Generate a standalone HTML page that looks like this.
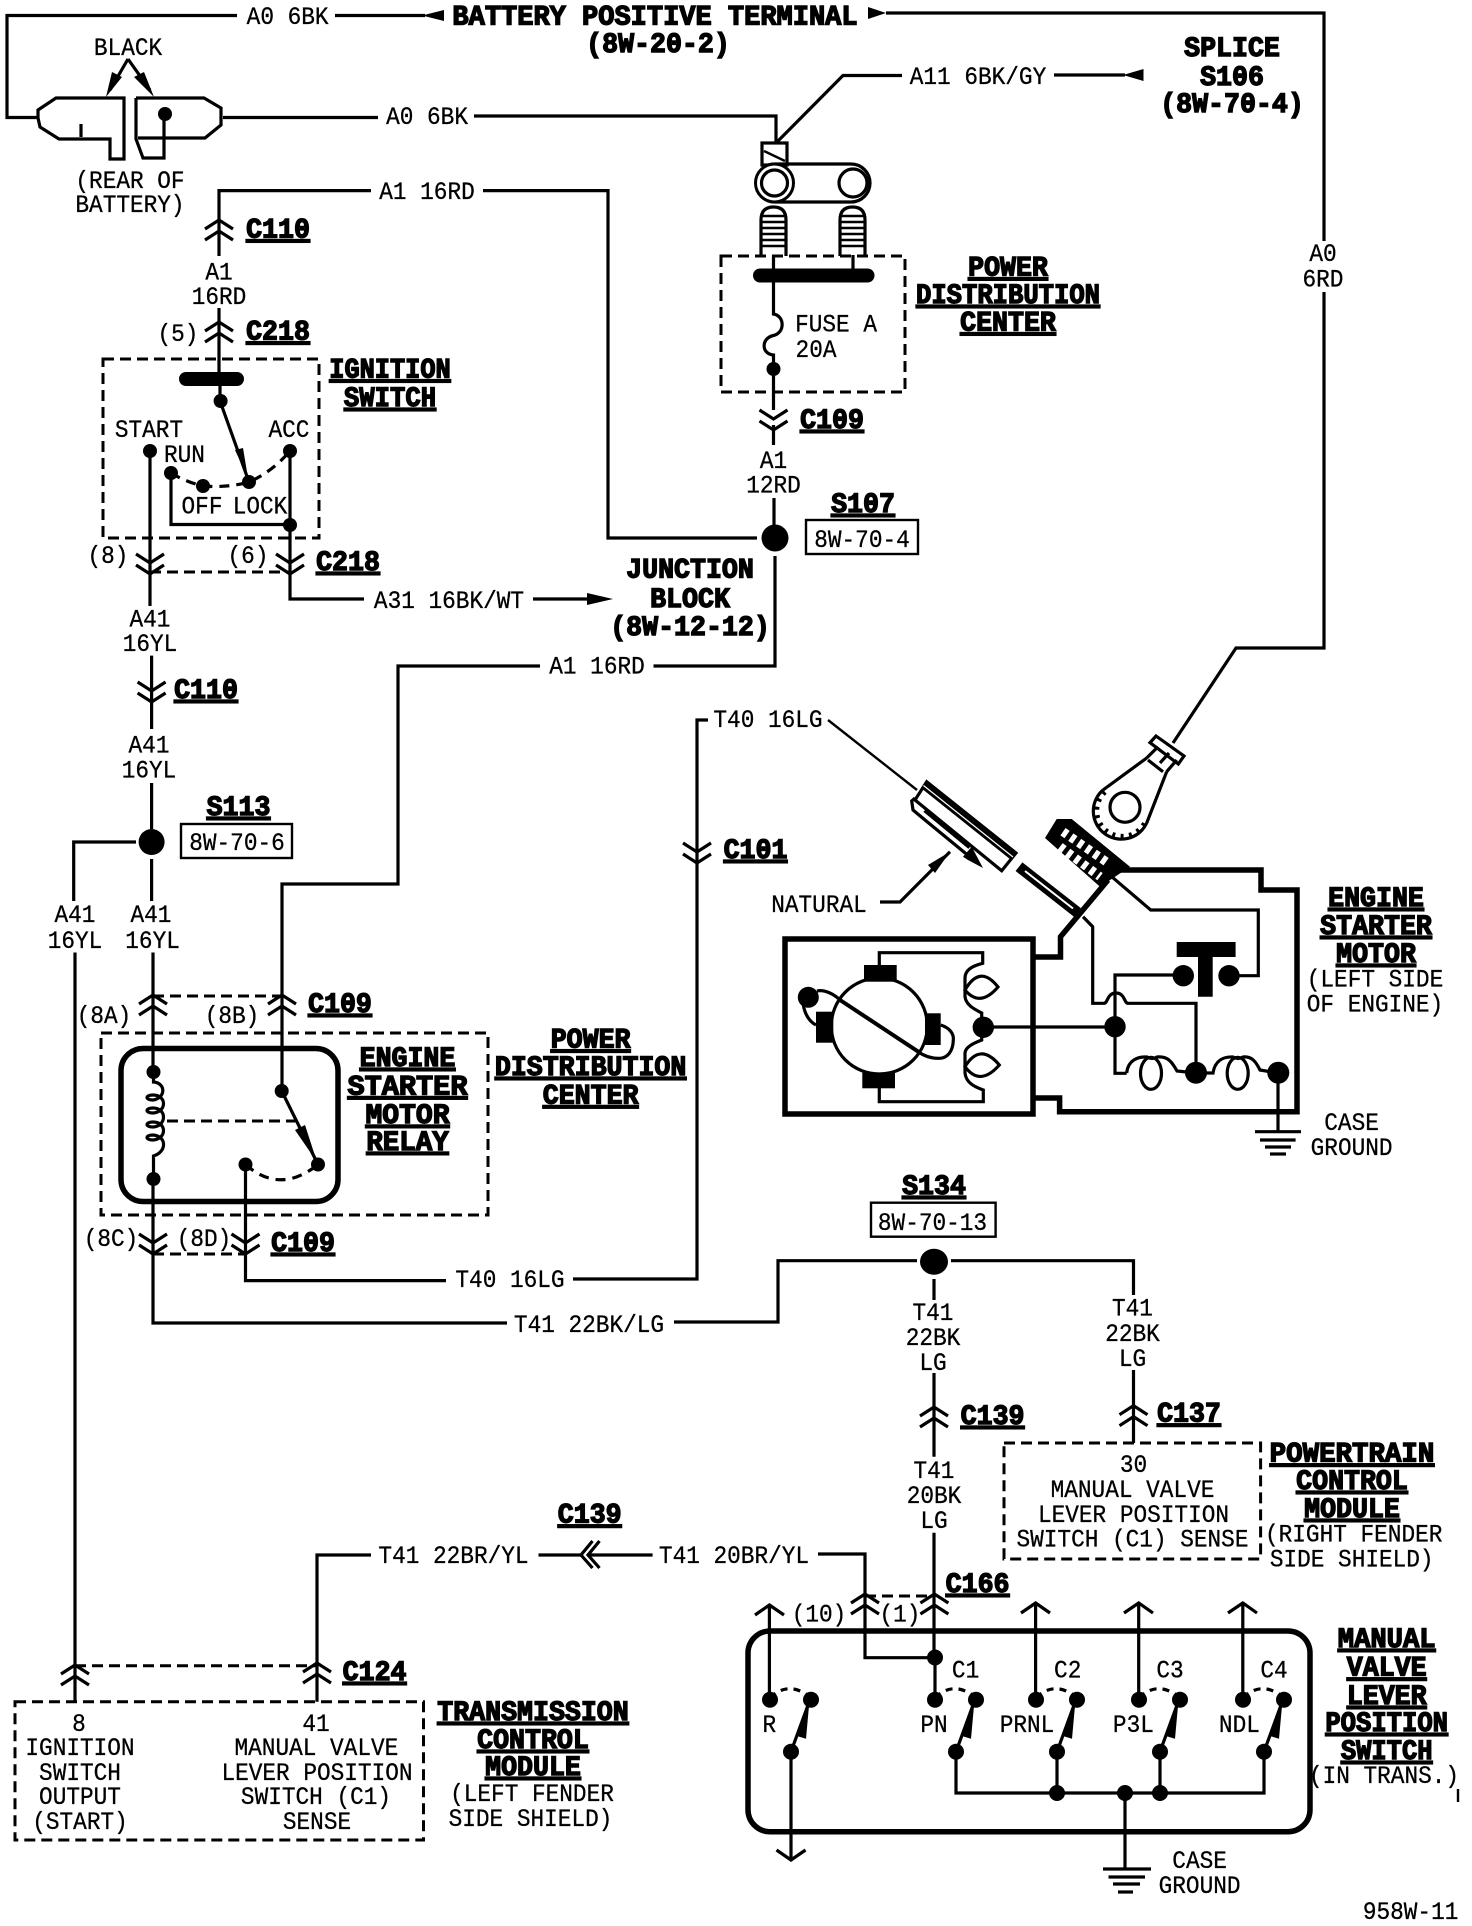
<!DOCTYPE html>
<html lang="en">
<head>
<meta charset="utf-8">
<title>Starting system wiring diagram</title>
<style>
html,body{margin:0;padding:0;background:#fff}
svg{display:block}
text{font-family:"Liberation Mono",monospace;font-size:25px;text-anchor:middle;fill:#000;stroke:#000;stroke-width:.3px;transform-box:fill-box;transform-origin:center;transform:scaleX(.91)}
text.b{font-weight:bold;font-size:28px;stroke:#000;stroke-width:1.4px;transform:scaleX(.95)}
text.u{text-decoration:underline}
.w{fill:none;stroke:#000;stroke-width:3.2}
.t{fill:none;stroke:#000;stroke-width:2.4}
.h{fill:none;stroke:#000;stroke-width:5.5}
.d{fill:none;stroke:#000;stroke-width:3;stroke-dasharray:11 6}
.k{fill:#000;stroke:none}
</style>
</head>
<body>
<svg xmlns="http://www.w3.org/2000/svg" width="1472" height="1926" viewBox="0 0 1472 1926">
<defs>
<path id="cu" class="w" d="M-14,9 L0,0 L14,9 M-14,20 L0,11 L14,20"/>
<path id="cd" class="w" d="M-14,0 L0,9 L14,0 M-14,11 L0,20 L14,11"/>
<g id="sw">
<path class="w" d="M0,0 L19,-52"/>
<polygon class="k" points="18,-46 5,-16 15,-13"/>
<circle class="k" cx="0" cy="0" r="8"/>
<circle class="k" cx="20" cy="-52" r="8"/>
<circle class="k" cx="-21" cy="-52" r="8"/>
<path class="w" d="M-21,-54 Q-2,-72 20,-54" stroke-dasharray="7 6"/>
</g>
</defs>

<!-- battery -->
<path class="w" d="M237,15.5 H7 V117.5 H38"/>
<path class="w" d="M335,15.5 H425"/>
<polygon class="k" points="422,15.5 444,10 444,21"/>
<path class="w" d="M886,13 H1324 V241"/>
<polygon class="k" points="868,7 868,19 886,13"/>
<path class="w" d="M1324,292 V648 H1236 L1173,743"/>
<text x="287.6" y="24">A0 6BK</text>
<text class="b" style="transform:scaleX(.965)" x="655" y="24.5">BATTERY POSITIVE TERMINAL</text>
<text class="b" x="658" y="52">(8W-20-2)</text>
<text x="128" y="55">BLACK</text>
<path class="w" d="M128,59 L110,90 M128,59 L150,90"/>
<polygon class="k" points="106,97 112,72 122,77"/>
<polygon class="k" points="154,97 134,77 144,72"/>
<path class="w" d="M38,110 L56,98 H124 V159 H110 V139 H59 L40,127 L38,118 Z"/>
<path class="w" d="M81,124 V137"/>
<path class="w" d="M136,98 H204 L221,108 V125 L205,138 H138 M136,98 V139 L143,158 H164 V120"/>
<circle class="k" cx="165" cy="114" r="7"/>
<path class="w" d="M223,117.5 H378"/>
<text x="427" y="124">A0 6BK</text>
<path class="w" d="M474,116 H776 V143"/>
<text x="130" y="188">(REAR OF</text>
<text x="130" y="212">BATTERY)</text>

<!-- A11 + PDC top -->
<path class="w" d="M776,143 L843,75.5 H902"/>
<text x="978" y="84">A11 6BK/GY</text>
<path class="w" d="M1054,75 H1125"/>
<polygon class="k" points="1123,75 1143.5,69 1143.5,81"/>
<text class="b" x="1232" y="56">SPLICE</text>
<text class="b" x="1232" y="85">S106</text>
<text class="b" x="1232" y="112">(8W-70-4)</text>
<text x="1323" y="261">A0</text>
<text x="1323" y="286.5">6RD</text>
<rect class="w" x="762" y="143" width="25" height="22" fill="#fff"/>
<path class="t" d="M764,151 L785,161"/>
<rect class="w" x="756" y="164" width="114" height="38" rx="19"/>
<circle cx="774.5" cy="183" r="19" fill="#fff" stroke="#000" stroke-width="3"/>
<circle class="w" cx="774.5" cy="183" r="13"/>
<circle cx="853" cy="183" r="14" fill="#fff" stroke="#000" stroke-width="3.2"/>
<path class="w" d="M761,256 V220 Q761,207 773.5,207 Q786,207 786,220 V256"/>
<path class="t" d="M761,216 H786 M761,222 H786 M761,228 H786 M761,234 H786 M761,240 H786 M761,246 H786"/>
<path class="w" d="M840,256 V220 Q840,207 852.5,207 Q865,207 865,220 V256"/>
<path class="t" d="M840,216 H865 M840,222 H865 M840,228 H865 M840,234 H865 M840,240 H865 M840,246 H865"/>
<path class="w" d="M773.5,255 V269 M853,255 V269"/>
<rect class="k" x="753" y="268.5" width="121.5" height="14" rx="7"/>
<rect class="d" x="721" y="256" width="184" height="136"/>
<path class="w" d="M773.5,282 V314 C785,316 785,333 773.5,335.5 C761,338 761,354 773.5,355 V410"/>
<circle class="k" cx="773.5" cy="369" r="7"/>
<text x="836" y="331.5">FUSE A</text>
<text x="816" y="357">20A</text>
<use href="#cd" x="773.5" y="410"/>
<path class="w" d="M773.5,425 V445"/>
<text class="b u" x="832" y="428">C109</text>
<text class="b u" x="1008" y="275.5">POWER</text>
<text class="b u" style="transform:scaleX(.913)" x="1008" y="303">DISTRIBUTION</text>
<text class="b u" x="1008" y="330.5">CENTER</text>
<text x="773.5" y="468">A1</text>
<text x="773.5" y="492.6">12RD</text>
<path class="w" d="M774,498 V525"/>
<circle class="k" cx="775" cy="538" r="13.5"/>
<text class="b u" x="863" y="512">S107</text>
<rect class="t" x="806" y="520" width="112" height="34"/>
<text x="862" y="547">8W-70-4</text>
<path class="w" d="M775,556 V666 H653.5"/>

<!-- A1 left + ignition -->
<path class="w" d="M371,190.6 H219 V256"/>
<text x="427" y="199">A1 16RD</text>
<path class="w" d="M483,190.6 H608 V538 H757"/>
<use href="#cu" x="219" y="220"/>
<text class="b u" x="278" y="237.5">C110</text>
<text x="219" y="279.6">A1</text>
<text x="219" y="304">16RD</text>
<path class="w" d="M219,308 V378"/>
<use href="#cu" x="219" y="322"/>
<text x="178" y="341">(5)</text>
<text class="b u" x="278" y="339.6">C218</text>
<rect class="d" x="103" y="359" width="216" height="179"/>
<text class="b u" style="transform:scaleX(.904)" x="390" y="377.5">IGNITION</text>
<text class="b u" style="transform:scaleX(.914)" x="390" y="406">SWITCH</text>
<rect class="k" x="179" y="372" width="65" height="14" rx="7"/>
<path class="w" d="M220,386 V401 L249,482"/>
<circle class="k" cx="220.6" cy="401" r="7"/>
<polygon class="k" points="248,478 235,450 243,448"/>
<circle class="k" cx="249" cy="482" r="7"/>
<circle class="k" cx="150" cy="451" r="7"/>
<circle class="k" cx="290" cy="451" r="7"/>
<circle class="k" cx="171" cy="473" r="7"/>
<circle class="k" cx="203" cy="486" r="7"/>
<path class="w" d="M171,473 Q186,482 203,486 Q228,488 249,482 Q272,472 290,451" stroke-dasharray="10 7"/>
<text x="149" y="437">START</text>
<text x="289" y="437">ACC</text>
<text x="184.5" y="462">RUN</text>
<text x="202" y="513.5">OFF</text>
<text x="260" y="513.5">LOCK</text>
<path class="w" d="M150,451 V606"/>
<path class="w" d="M171,473 V524.5 H290"/>
<path class="w" d="M290,451 V599 H364"/>
<circle class="k" cx="290" cy="525" r="7"/>
<text x="108" y="563">(8)</text>
<text x="248" y="563">(6)</text>
<use href="#cd" x="150" y="554"/>
<use href="#cd" x="290" y="554"/>
<path class="d" d="M150,572 H290"/>
<text class="b u" x="348" y="570">C218</text>
<text x="449" y="608">A31 16BK/WT</text>
<path class="w" d="M533,599 H590"/>
<polygon class="k" points="587,593 587,605 613,599"/>
<text class="b" x="690" y="577.6">JUNCTION</text>
<text class="b" x="690" y="607">BLOCK</text>
<text class="b" x="690" y="635">(8W-12-12)</text>
<text x="150" y="626.5">A41</text>
<text x="150" y="651">16YL</text>

<!-- A41 -->
<path class="w" d="M151.6,655.6 V729"/>
<use href="#cd" x="151.6" y="682"/>
<text class="b u" x="206" y="698">C110</text>
<text x="149" y="752.5">A41</text>
<text x="149" y="777.5">16YL</text>
<path class="w" d="M151.6,783 V829"/>
<circle class="k" cx="151.6" cy="842" r="13"/>
<path class="w" d="M136,842 H73.7 V901"/>
<path class="w" d="M151.6,859 V901"/>
<text class="b u" x="238.5" y="815">S113</text>
<rect class="t" x="181" y="824" width="111" height="34"/>
<text x="237" y="850">8W-70-6</text>
<text x="75" y="922">A41</text>
<text x="75" y="948">16YL</text>
<text x="151" y="922">A41</text>
<text x="152.6" y="948">16YL</text>
<path class="w" d="M75,952.5 V1701.7"/>
<path class="w" d="M153,952.5 V1072"/>

<!-- A1 to relay -->
<path class="w" d="M540,666 H398 V884 H282 V1091"/>
<text x="597" y="673.5">A1 16RD</text>
<use href="#cu" x="153" y="995"/>
<use href="#cu" x="282" y="995"/>
<path class="d" d="M153,996 H282"/>
<text x="104" y="1023">(8A)</text>
<text x="232" y="1023">(8B)</text>
<text class="b u" x="340" y="1012">C109</text>
<rect class="d" x="101" y="1033" width="387" height="182"/>
<rect class="h" x="121" y="1048.5" width="217" height="153" rx="22"/>
<circle class="k" cx="153.5" cy="1072" r="7"/>
<circle class="k" cx="153.5" cy="1179" r="7"/>
<path class="w" d="M153.5,1076 V1082 C166,1083 166,1098 153,1100 C145,1100 145,1095 153,1095 C167,1095 167,1112 153,1113 C145,1113 145,1108 153,1108 C167,1108 167,1126 153,1127 C145,1127 145,1122 153,1122 C167,1122 167,1139 153,1140 C145,1140 145,1135 153,1135 C167,1136 167,1152 153.5,1156 V1179"/>
<path class="d" d="M167,1121 H298"/>
<circle class="k" cx="281.7" cy="1091" r="7"/>
<path class="w" d="M281.7,1091 L318,1164.5"/>
<polygon class="k" points="317,1162 295,1130 305,1125"/>
<circle class="k" cx="318" cy="1164.5" r="7"/>
<circle class="k" cx="245.5" cy="1164.5" r="7"/>
<path class="w" d="M245.5,1164.5 Q280,1195 318,1164.5" stroke-dasharray="10 7"/>
<text class="b u" x="407.5" y="1066">ENGINE</text>
<text class="b u" style="transform:scaleX(1.02)" x="407.5" y="1094.5">STARTER</text>
<text class="b u" style="transform:scaleX(1)" x="407.5" y="1123">MOTOR</text>
<text class="b u" style="transform:scaleX(.98)" x="407.5" y="1150">RELAY</text>
<text class="b u" x="590.6" y="1047.6">POWER</text>
<text class="b u" x="590.6" y="1075">DISTRIBUTION</text>
<text class="b u" x="590.6" y="1103.4">CENTER</text>
<use href="#cd" x="153" y="1234"/>
<use href="#cd" x="245.5" y="1234"/>
<path class="d" d="M153,1254 H245.5"/>
<text x="111" y="1246">(8C)</text>
<text x="204" y="1246">(8D)</text>
<text class="b u" x="303" y="1251">C109</text>
<path class="w" d="M153,1179 V1323 H507"/>
<path class="w" d="M245.5,1164.5 V1280.6 H446"/>
<text x="510" y="1287">T40 16LG</text>
<path class="w" d="M573,1279 H697 V720 H708"/>
<use href="#cd" x="697" y="843"/>
<text class="b u" x="755.5" y="858">C101</text>
<text x="768" y="727">T40 16LG</text>
<path class="t" d="M828,720 L917,790"/>
<text x="589" y="1332">T41 22BK/LG</text>
<path class="w" d="M674,1322 H778 V1260.7 H917"/>

<!-- female terminal -->
<path class="w" d="M926.7,781.7 L1016,853 L1001.7,870.7 L915,800 Z" stroke-width="2.6"/>
<path fill="none" stroke="#000" stroke-width="7" d="M923.5,785.5 L1013,857"/>
<path fill="none" stroke="#fff" stroke-width="1.2" d="M923.5,785.5 L1013,857"/>
<path class="w" d="M915,798 L911.7,801 L913,810 L925,820 L970,857"/>
<path fill="none" stroke="#000" stroke-width="5" d="M925,810 L970,847"/>
<polygon class="k" points="963,856.7 971.7,846.7 983,868 968,860"/>
<!-- male blade -->
<path fill="none" stroke="#000" stroke-width="11" d="M1019,866.7 L1077.5,912.5"/>
<path fill="none" stroke="#fff" stroke-width="2" d="M1025,871 L1073,908.5"/>
<!-- threaded stud -->
<polygon class="k" points="1056.7,819 1071.7,819 1130,866.7 1100,886.7 1045,838"/>
<path d="M1063,831.7 L1108,863 M1060,846.7 L1100,876.7" stroke="#fff" stroke-width="9" stroke-dasharray="5 4.5" fill="none"/>
<!-- lug -->
<path class="w" d="M1103,790 A28,28 0 1 0 1146.7,823"/>
<path fill="none" stroke="#000" stroke-width="5" stroke-dasharray="3 5.5" d="M1105,792 A25.5,25.5 0 1 0 1146,820"/>
<circle class="w" cx="1125" cy="807.3" r="15"/>
<path class="w" d="M1103,790 L1146.7,758 M1146.7,823 L1166.7,771.7"/>
<path class="w" d="M1156,736 L1184,756 L1178.3,764 L1150,742.7 Z"/>
<path class="w" d="M1146.7,758 L1158,746.7 M1166.7,771.7 L1176.7,760 M1160,763 L1169,753 M1148,760 L1163,771.7"/>
<text x="819" y="912">NATURAL</text>
<path class="w" d="M880,902 H900 L950,851.7"/>
<polygon class="k" points="950,851.7 928,865 935,873"/>
<path class="h" d="M1113,870 H1261 V890 H1297 V1111.7 H1059.6 V1098 H1033"/>
<path class="h" d="M1033,957 H1060.5 V936.7 L1108,880"/>
<rect class="h" x="785" y="939" width="248" height="175"/>
<path class="w" d="M1111.7,876.7 L1150.7,910 H1258.3 V975.7 H1232"/>
<path class="w" d="M1083,916.7 L1092.7,926.7 V1003.3 H1104 C1108,1003.3 1107,993 1116,993 C1125,993 1124,1003.3 1128,1003.3 H1196 V1073"/>
<polygon class="k" points="1176.7,942 1235.6,942 1235.6,957 1212.7,957 1212.7,996.7 1198,996.7 1198,957 1176.7,957"/>
<circle class="k" cx="1183.3" cy="975.7" r="10.7"/>
<circle class="k" cx="1229" cy="975.7" r="10.7"/>
<path class="w" d="M1183,975 H1115 V1073.3 H1126.7"/>
<circle class="k" cx="1115" cy="1026.7" r="10.7"/>
<path class="w" d="M983,1027 H1115"/>
<path class="w" d="M1126.7,1073 C1128,1060 1138,1056.5 1147,1057 Q1152,1060 1157,1057 C1168,1056 1172,1062 1177,1071 L1196,1073 H1213 C1215,1060 1224,1056.5 1233,1057 Q1238,1060 1243,1057 C1252,1056 1256,1062 1260,1070 L1278,1073"/>
<ellipse class="w" cx="1151" cy="1073.3" rx="10.5" ry="16"/>
<ellipse class="w" cx="1237.7" cy="1073.3" rx="10.5" ry="16"/>
<circle class="k" cx="1196" cy="1072.7" r="11"/>
<circle class="k" cx="1278.3" cy="1072.7" r="11"/>
<path class="w" d="M1278,1073 V1131.7"/>
<path class="w" d="M1255,1131.7 H1301"/>
<path class="w" d="M1260,1140 H1295.6"/>
<path class="w" d="M1265,1147 H1291"/>
<path class="w" d="M1270,1154 H1286"/>
<text x="1351.6" y="1130">CASE</text>
<text x="1351.6" y="1155">GROUND</text>
<text class="b u" x="1376" y="906">ENGINE</text>
<text class="b u" x="1376" y="934">STARTER</text>
<text class="b u" x="1376" y="962">MOTOR</text>
<text x="1375" y="986.7">(LEFT SIDE</text>
<text x="1375" y="1011.7">OF ENGINE)</text>

<!-- motor internals -->
<circle class="w" cx="879.3" cy="1026" r="48"/>
<rect class="k" x="864" y="965" width="32.7" height="16.7"/>
<rect class="k" x="862.3" y="1072.7" width="32.7" height="15.6"/>
<rect class="k" x="816" y="1011.7" width="17.3" height="31"/>
<rect class="k" x="925" y="1013.3" width="15.7" height="31.7"/>
<path fill="none" stroke="#000" stroke-width="4" d="M840,1000 L918.3,1051.7"/>
<circle class="k" cx="808.3" cy="997.3" r="10.5"/>
<path class="w" d="M803.3,1005 C805,1015 810,1022 816,1025 M817,991 C825,989 835,995 840,1000"/>
<path class="w" d="M940.7,1025 C950,1028 954,1034 953.3,1040 C953,1052 947,1058 940,1058.3 C932,1058.6 924,1056 918,1051.7"/>
<path class="w" d="M879.3,965 V952.7 H982.7 V963.3 C972,966 965,970 965,978 V996.7 C966,1005 974,1009 981.7,1013 V1040 C974,1043 965,1047 965,1053.3 V1073 C966,1083 975,1087 983.3,1090 V1101.7 H879.3 V1088"/>
<path class="w" d="M965,990 Q980,964 998,987 Q980,1008 965,990 Z"/>
<path class="w" d="M965,1066.7 Q980,1042 999.3,1065 Q980,1087 965,1066.7 Z"/>
<circle class="k" cx="983.3" cy="1027.3" r="10.7"/>

<!-- S134 area -->
<text class="b u" x="934" y="1194">S134</text>
<rect class="t" x="871" y="1202.7" width="124.6" height="34"/>
<text x="932.5" y="1230">8W-70-13</text>
<ellipse class="k" cx="934" cy="1261.7" rx="14" ry="13"/>
<path class="w" d="M951,1260.7 H1133.5 V1295"/>
<path class="w" d="M934,1279 V1300"/>
<text x="933" y="1320">T41</text>
<text x="933" y="1345">22BK</text>
<text x="933" y="1370">LG</text>
<path class="w" d="M934,1373 V1456.7"/>
<use href="#cu" x="934" y="1407"/>
<text class="b u" x="992.6" y="1424">C139</text>
<text x="934" y="1478">T41</text>
<text x="934" y="1503">20BK</text>
<text x="934" y="1528">LG</text>
<path class="w" d="M934,1532.7 V1657.5"/>
<text x="1132.5" y="1315.7">T41</text>
<text x="1132.5" y="1341">22BK</text>
<text x="1132.5" y="1366">LG</text>
<path class="w" d="M1133.5,1370 V1443"/>
<use href="#cu" x="1133.5" y="1405.7"/>
<text class="b u" x="1189" y="1421.7">C137</text>
<rect class="d" x="1004" y="1443" width="256.6" height="116"/>
<text x="1133.5" y="1472">30</text>
<text x="1132.5" y="1497">MANUAL VALVE</text>
<text x="1133.5" y="1522">LEVER POSITION</text>
<text x="1132.5" y="1546.7">SWITCH (C1) SENSE</text>
<text class="b u" style="transform:scaleX(.98)" x="1352" y="1461.7">POWERTRAIN</text>
<text class="b u" x="1352" y="1489">CONTROL</text>
<text class="b u" x="1352" y="1517">MODULE</text>
<text x="1353.7" y="1541.7">(RIGHT FENDER</text>
<text x="1351.7" y="1566.7">SIDE SHIELD)</text>

<!-- T41 BR/YL -->
<text class="b u" x="589.7" y="1522.7">C139</text>
<path class="w" d="M371,1555 H317 V1701.7"/>
<text x="453.5" y="1563">T41 22BR/YL</text>
<path class="w" d="M538.5,1555 H581"/>
<path class="w" d="M592.5,1541 L581,1555 L592.5,1568 M599.5,1541 L588,1555 L599.5,1568"/>
<path class="w" d="M588,1555 H652.6"/>
<text x="734" y="1563">T41 20BR/YL</text>
<path class="w" d="M818,1554 H865 V1657.7 H935"/>

<!-- TCM -->
<use href="#cu" x="75" y="1665"/>
<use href="#cu" x="317" y="1663"/>
<path class="d" d="M75,1665.7 H317"/>
<text class="b u" x="374.6" y="1680">C124</text>
<rect class="d" x="15" y="1701.7" width="408.5" height="138.3"/>
<text x="79" y="1731">8</text>
<text x="80" y="1755">IGNITION</text>
<text x="80" y="1780">SWITCH</text>
<text x="80" y="1804">OUTPUT</text>
<text x="80" y="1829">(START)</text>
<text x="316" y="1731">41</text>
<text x="316.4" y="1755">MANUAL VALVE</text>
<text x="317" y="1780">LEVER POSITION</text>
<text x="316" y="1804">SWITCH (C1)</text>
<text x="317" y="1829">SENSE</text>
<text class="b u" x="533" y="1720">TRANSMISSION</text>
<text class="b u" x="533" y="1748">CONTROL</text>
<text class="b u" x="533" y="1775">MODULE</text>
<text x="532" y="1801">(LEFT FENDER</text>
<text x="530.5" y="1826">SIDE SHIELD)</text>

<!-- Manual valve switch -->
<text class="b u" x="977.6" y="1592">C166</text>
<use href="#cu" x="865" y="1594"/>
<use href="#cu" x="934.4" y="1594"/>
<path class="d" d="M865,1596 H934.4"/>
<text x="819" y="1621.7">(10)</text>
<text x="900" y="1621.7">(1)</text>
<rect x="748" y="1631" width="562" height="200.7" rx="22" fill="none" stroke="#000" stroke-width="5.5"/>
<circle class="k" cx="935" cy="1657.5" r="8"/>
<path class="w" d="M935,1657 V1700"/>
<path class="w" d="M769.4,1700 V1605 M755,1615 L769.4,1605 L784,1615"/>
<path class="w" d="M1035.6,1700 V1603 M1021,1613 L1035.6,1603 L1050,1613"/>
<path class="w" d="M1138.7,1700 V1603 M1124,1613 L1138.7,1603 L1153,1613"/>
<path class="w" d="M1242.8,1700 V1603 M1228,1613 L1242.8,1603 L1257,1613"/>
<use href="#sw" x="791" y="1751.7"/>
<use href="#sw" x="956" y="1751.7"/>
<use href="#sw" x="1057" y="1751.7"/>
<use href="#sw" x="1160" y="1751.7"/>
<use href="#sw" x="1264" y="1751.7"/>
<text x="769.4" y="1732">R</text>
<text x="934" y="1732">PN</text>
<text x="1027" y="1732">PRNL</text>
<text x="1133.4" y="1732">P3L</text>
<text x="1239.4" y="1732">NDL</text>
<text x="965.6" y="1677.7">C1</text>
<text x="1067.7" y="1677.7">C2</text>
<text x="1170" y="1677.7">C3</text>
<text x="1274" y="1677.7">C4</text>
<path class="w" d="M791,1752 V1860 M776.5,1850 L791,1860 L805.5,1850"/>
<path class="w" d="M956,1752 V1793 H1264 V1752 M1057,1752 V1793 M1160,1752 V1793"/>
<circle class="k" cx="1057" cy="1793" r="8"/>
<circle class="k" cx="1125" cy="1793" r="8"/>
<circle class="k" cx="1160" cy="1793" r="8"/>
<path class="w" d="M1125,1793 V1869"/>
<path class="w" d="M1103,1869 H1151"/>
<path class="w" d="M1108.5,1877 H1145"/>
<path class="w" d="M1113,1884 H1140"/>
<path class="w" d="M1118,1892 H1133"/>
<text x="1199.6" y="1868">CASE</text>
<text x="1199.6" y="1893">GROUND</text>
<text class="b u" style="transform:scaleX(.97)" x="1386.7" y="1647">MANUAL</text>
<text class="b u" x="1386.7" y="1675.7">VALVE</text>
<text class="b u" x="1386.7" y="1704">LEVER</text>
<text class="b u" style="transform:scaleX(.913)" x="1386.7" y="1731">POSITION</text>
<text class="b u" style="transform:scaleX(.91)" x="1386.7" y="1759">SWITCH</text>
<text x="1384" y="1783">(IN TRANS.)</text>
<path class="t" d="M1458,1789 V1802"/>
<text x="1410.6" y="1919">958W-11</text>
</svg>
</body>
</html>
